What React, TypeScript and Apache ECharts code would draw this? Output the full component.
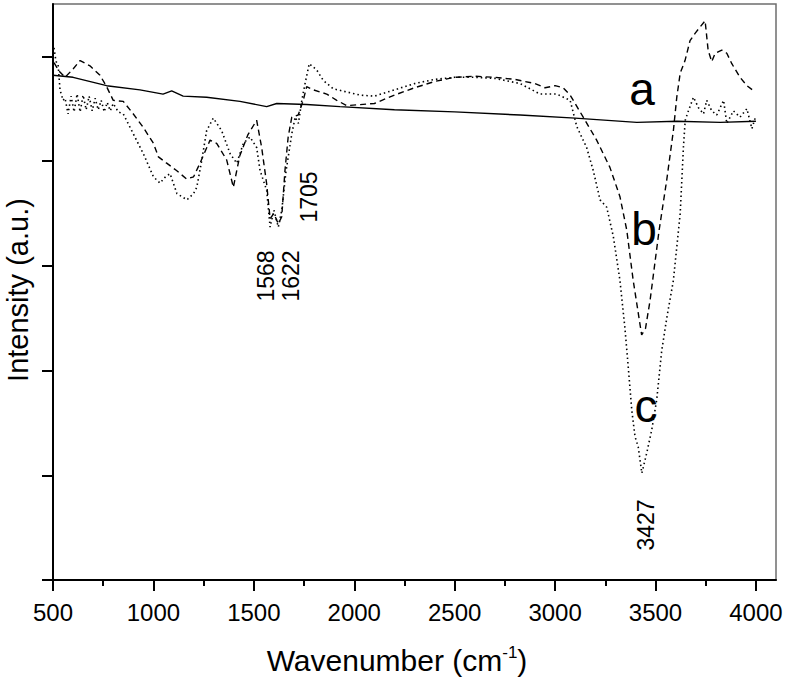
import React, { useEffect, useRef } from "react";
import * as echarts from "echarts";

const FONT = "'Liberation Sans', Arial, Helvetica, sans-serif";

const xMajorTicks = [500, 1000, 1500, 2000, 2500, 3000, 3500, 4000];
const xMinorTicks = [750, 1250, 1750, 2250, 2750, 3250, 3750];
const yTicks = [0, 1, 2, 3, 4, 5];

// curve a (solid)
const aX = [500, 600, 767, 933, 1048, 1091, 1148, 1265, 1431, 1564, 1614, 1763, 1929, 2200, 2500, 2826, 3100, 3407, 3606, 3822, 4000];
const aY = [4.82, 4.8, 4.72, 4.68, 4.64, 4.67, 4.62, 4.61, 4.57, 4.52, 4.55, 4.54, 4.52, 4.49, 4.47, 4.44, 4.41, 4.37, 4.38, 4.37, 4.38];

// curve b (dashed)
const bX = [505, 530, 560, 600, 635, 684, 734, 767, 800, 850, 900, 950, 1000, 1025, 1066, 1115, 1165, 1200, 1232, 1282, 1315, 1365, 1398, 1430, 1470, 1514, 1539, 1564, 1581, 1600, 1622, 1639, 1655, 1671, 1689, 1721, 1746, 1763, 1797, 1863, 1913, 1963, 2100, 2200, 2300, 2400, 2500, 2600, 2700, 2800, 2900, 2950, 3000, 3040, 3075, 3140, 3207, 3273, 3323, 3357, 3389, 3410, 3431, 3450, 3473, 3518, 3556, 3589, 3606, 3623, 3647, 3672, 3697, 3722, 3747, 3762, 3780, 3797, 3830, 3855, 3880, 3921, 3955, 3996];
const bY = [4.94, 4.86, 4.8, 4.88, 4.96, 4.91, 4.82, 4.71, 4.58, 4.57, 4.45, 4.32, 4.17, 4.04, 3.98, 3.91, 3.83, 3.85, 3.98, 4.2, 4.17, 4.01, 3.75, 4.05, 4.25, 4.39, 4.13, 3.78, 3.45, 3.5, 3.4, 3.47, 3.91, 4.23, 4.42, 4.44, 4.58, 4.71, 4.68, 4.64, 4.58, 4.53, 4.55, 4.63, 4.7, 4.76, 4.8, 4.81, 4.8, 4.78, 4.74, 4.7, 4.72, 4.7, 4.63, 4.42, 4.2, 3.94, 3.66, 3.34, 2.86, 2.6, 2.34, 2.4, 2.67, 3.34, 3.82, 4.29, 4.61, 4.84, 4.96, 5.15, 5.22, 5.28, 5.34, 5.06, 4.95, 5.03, 5.06, 5.03, 4.93, 4.8, 4.72, 4.66];

// curve c (dotted)
const cX = [505, 515, 525, 535, 550, 560, 575, 590, 605, 620, 635, 650, 665, 680, 695, 710, 725, 740, 755, 770, 785, 800, 825, 850, 900, 950, 1000, 1033, 1060, 1083, 1117, 1167, 1200, 1216, 1240, 1265, 1298, 1340, 1382, 1415, 1448, 1481, 1514, 1531, 1564, 1581, 1600, 1622, 1639, 1660, 1689, 1706, 1722, 1739, 1755, 1776, 1813, 1846, 1896, 1963, 2029, 2100, 2200, 2300, 2400, 2500, 2600, 2700, 2826, 2925, 3008, 3075, 3108, 3157, 3190, 3224, 3257, 3290, 3323, 3348, 3364, 3382, 3398, 3414, 3432, 3456, 3481, 3506, 3531, 3556, 3589, 3623, 3639, 3648, 3664, 3689, 3714, 3739, 3755, 3780, 3805, 3839, 3855, 3888, 3921, 3955, 3980, 3996];
const cY = [5.08, 4.95, 4.93, 4.68, 4.58, 4.6, 4.45, 4.62, 4.47, 4.64, 4.47, 4.63, 4.49, 4.62, 4.48, 4.6, 4.49, 4.58, 4.47, 4.56, 4.48, 4.55, 4.47, 4.45, 4.26, 4.07, 3.85, 3.79, 3.85, 3.88, 3.69, 3.63, 3.69, 3.75, 4.0, 4.29, 4.41, 4.29, 4.07, 3.98, 4.17, 4.23, 4.13, 3.91, 3.72, 3.37, 3.53, 3.37, 3.53, 3.9, 4.26, 4.42, 4.36, 4.58, 4.74, 4.93, 4.87, 4.77, 4.69, 4.66, 4.63, 4.62, 4.68, 4.74, 4.78, 4.8, 4.8, 4.79, 4.74, 4.64, 4.64, 4.58, 4.33, 4.13, 3.91, 3.63, 3.56, 3.28, 2.86, 2.4, 2.04, 1.62, 1.37, 1.27, 1.02, 1.21, 1.43, 1.72, 2.19, 2.5, 2.86, 3.5, 4.13, 4.39, 4.48, 4.61, 4.51, 4.45, 4.58, 4.48, 4.44, 4.58, 4.36, 4.48, 4.42, 4.5, 4.31, 4.41];

const curveLabels = ["a", "b", "c"];
const peakLabels = ["1568", "1622", "1705", "3427"];

const zip = (xs: number[], ys: number[]) => xs.map((x, i) => [x, ys[i]]);

export default function App() {
  const ref = useRef<HTMLDivElement>(null);
  useEffect(() => {
    if (!ref.current) return;
    const chart = echarts.init(ref.current, null, { renderer: "svg" });
    const lineBase = { type: "line", showSymbol: false, symbol: "none", silent: true };
    chart.setOption({
      animation: false,
      backgroundColor: "#fff",
      grid: {
        left: 53,
        right: 11,
        top: 4,
        bottom: 98,
        show: true,
        borderColor: "#6e6e6e",
        borderWidth: 1.5,
      },
      xAxis: [
        {
          type: "value",
          min: 500,
          max: 4100,
          interval: 500,
          axisLine: { show: true, lineStyle: { color: "#000", width: 2 } },
          axisTick: { show: true, customValues: xMajorTicks, length: 11, lineStyle: { color: "#000", width: 2 } },
          axisLabel: {
            customValues: xMajorTicks,
            formatter: (v: number) => String(v),
            fontSize: 24,
            color: "#000",
            fontFamily: FONT,
            margin: 20,
          },
          splitLine: { show: false },
        },
        {
          type: "value",
          min: 500,
          max: 4100,
          interval: 500,
          position: "bottom",
          axisLine: { show: false },
          axisTick: { show: true, customValues: xMinorTicks, length: 6, lineStyle: { color: "#000", width: 2 } },
          axisLabel: { show: false },
          splitLine: { show: false },
        },
      ],
      yAxis: {
        type: "value",
        min: 0,
        max: 5.5,
        interval: 1,
        axisLine: { show: true, lineStyle: { color: "#000", width: 2 } },
        axisTick: { show: true, customValues: yTicks, length: 11, lineStyle: { color: "#000", width: 2 } },
        axisLabel: { show: false },
        splitLine: { show: false },
      },
      series: [
        { ...lineBase, name: "a", data: zip(aX, aY), lineStyle: { color: "#000", width: 1.4, type: "solid" } },
        { ...lineBase, name: "b", data: zip(bX, bY), lineStyle: { color: "#000", width: 1.4, type: [6, 4] } },
        { ...lineBase, name: "c", data: zip(cX, cY), lineStyle: { color: "#000", width: 1.6, type: [1.5, 3] } },
      ],
      graphic: [
        {
          type: "text",
          x: 397,
          y: 660,
          style: {
            text: "{n|Wavenumber (cm}{s|-1}{n|)}",
            align: "center",
            verticalAlign: "middle",
            fill: "#000",
            rich: {
              n: { fontSize: 30, fontFamily: FONT, fill: "#000", lineHeight: 32 },
              s: { fontSize: 17, fontFamily: FONT, fill: "#000", verticalAlign: "top", lineHeight: 32, padding: [0, 0, 12, 0] },
            },
          },
        },
        {
          type: "text",
          x: 18,
          y: 290,
          rotation: Math.PI / 2,
          style: { text: "Intensity (a.u.)", fontSize: 29, fontFamily: FONT, fill: "#000", align: "center", verticalAlign: "middle" },
        },
        { type: "text", x: 642, y: 89, style: { text: curveLabels[0], fontSize: 46, fontFamily: FONT, fill: "#000", align: "center", verticalAlign: "middle" } },
        { type: "text", x: 644, y: 229, style: { text: curveLabels[1], fontSize: 46, fontFamily: FONT, fill: "#000", align: "center", verticalAlign: "middle" } },
        { type: "text", x: 646, y: 406, style: { text: curveLabels[2], fontSize: 46, fontFamily: FONT, fill: "#000", align: "center", verticalAlign: "middle" } },
        { type: "text", x: 266, y: 276, rotation: Math.PI / 2, style: { text: peakLabels[0], fontSize: 23, fontFamily: FONT, fill: "#000", align: "center", verticalAlign: "middle" } },
        { type: "text", x: 291, y: 276, rotation: Math.PI / 2, style: { text: peakLabels[1], fontSize: 23, fontFamily: FONT, fill: "#000", align: "center", verticalAlign: "middle" } },
        { type: "text", x: 309, y: 197, rotation: Math.PI / 2, style: { text: peakLabels[2], fontSize: 23, fontFamily: FONT, fill: "#000", align: "center", verticalAlign: "middle" } },
        { type: "text", x: 646, y: 525, rotation: Math.PI / 2, style: { text: peakLabels[3], fontSize: 23, fontFamily: FONT, fill: "#000", align: "center", verticalAlign: "middle" } },
      ],
    });
    return () => chart.dispose();
  }, []);
  return (
    <div
      ref={ref}
      style={{ position: "fixed", left: 0, top: 0, width: 787, height: 678, background: "#fff" }}
    />
  );
}
